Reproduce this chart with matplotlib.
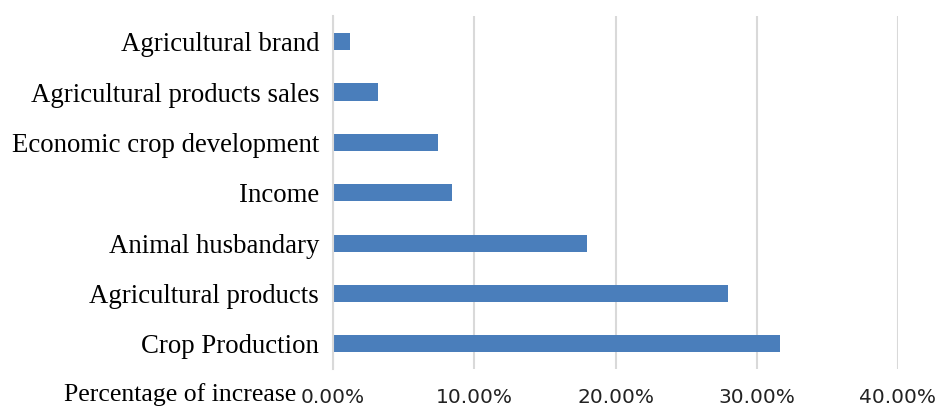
import matplotlib.pyplot as plt
from matplotlib.ticker import FuncFormatter

# Share of increase by category (top to bottom as drawn)
categories = ['Agricultural brand', 'Agricultural products sales',
              'Economic crop development', 'Income', 'Animal husbandary',
              'Agricultural products', 'Crop Production']
values = [1.18, 3.2, 7.4, 8.4, 17.95, 27.97, 31.66]

plt.rcParams['font.family'] = ['Liberation Serif', 'DejaVu Serif']

fig = plt.figure(figsize=(9.41, 4.12), dpi=100)
ax = fig.add_axes([0.3539, 0.1044, 0.6004, 0.8556])

ypos = list(range(len(categories)))
ax.barh(ypos, values, height=0.34, color='#4a7ebb')
ax.set_yticks(ypos)
ax.set_yticklabels(categories, fontsize=19.3)
ax.set_ylim(len(categories) - 0.5, -0.5)

ax.set_xlim(0, 40)
ax.set_xticks([0, 10, 20, 30, 40])
ax.xaxis.set_major_formatter(FuncFormatter(lambda v, p: f'{v:.2f}%'))
for lbl in ax.get_xticklabels():
    lbl.set_family('DejaVu Sans')
ax.tick_params(axis='x', labelsize=14.5, labelcolor='#222222', length=0, pad=14)
ax.tick_params(axis='y', length=0, pad=10)

ax.grid(axis='x', color='#d9d9d9', linewidth=1.5)
ax.set_axisbelow(True)
for side in ['top', 'right', 'bottom']:
    ax.spines[side].set_visible(False)
ax.spines['left'].set_color('#d9d9d9')
ax.spines['left'].set_linewidth(1.5)

# axis title sits to the left of the first tick label
fig.text(0.068, 0.027, 'Percentage of increase', fontsize=18.5, ha='left', va='baseline')

fig.savefig('out.png', dpi=100)
